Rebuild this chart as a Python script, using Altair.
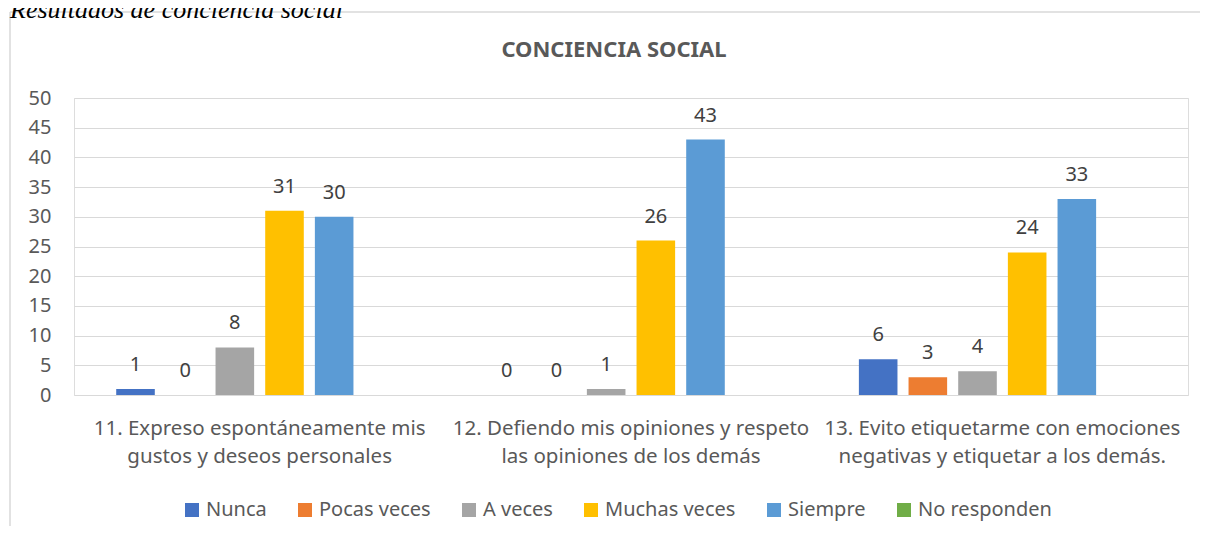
import altair as alt
import pandas as pd

categories = ["Nunca", "Pocas veces", "A veces", "Muchas veces", "Siempre", "No responden"]
colors = ["#4472C4", "#ED7D31", "#A5A5A5", "#FFC000", "#5B9BD5", "#70AD47"]
questions = [
    "11. Expreso espontáneamente mis|gustos y deseos personales",
    "12. Defiendo mis opiniones y respeto|las opiniones de los demás",
    "13. Evito etiquetarme con emociones|negativas y etiquetar a  los demás.",
]
y_ticks = [0, 5, 10, 15, 20, 25, 30, 35, 40, 45, 50]
nunca = [1, 0, 6]
pocas_veces = [0, 0, 3]
a_veces = [8, 1, 4]
muchas_veces = [31, 26, 24]
siempre = [30, 43, 33]
no_responden = [None, None, None]

series = [nunca, pocas_veces, a_veces, muchas_veces, siempre, no_responden]
rows = []
for cat, vals in zip(categories, series):
    for q, v in zip(questions, vals):
        if v is not None:
            rows.append({"pregunta": q, "respuesta": cat, "valor": v})
df = pd.DataFrame(rows)

FONT = "Noto Sans"
GRAY = "#595959"

x_enc = alt.X("pregunta:N", sort=questions,
              scale=alt.Scale(paddingInner=0, paddingOuter=0),
              axis=alt.Axis(title=None, labelAngle=0, labelExpr="split(datum.label, '|')",
                            labelFontSize=20.5, labelColor=GRAY, labelFont=FONT,
                            labelLineHeight=28, labelPadding=23, labelLimit=0,
                            domain=False, ticks=False, grid=False))
xo_enc = alt.XOffset("respuesta:N", sort=categories,
                     scale=alt.Scale(domain=categories, paddingInner=0.223, paddingOuter=0.85))
y_enc = alt.Y("valor:Q", scale=alt.Scale(domain=[0, 50], nice=False),
              axis=alt.Axis(title=None, values=y_ticks, tickCount=20, labelFontSize=20,
                            labelColor=GRAY, labelFont=FONT, labelPadding=23,
                            labelOverlap=False, domain=False, ticks=False,
                            gridColor="#D9D9D9", gridWidth=1.2))

bars = alt.Chart(df).mark_bar().encode(
    x=x_enc,
    xOffset=xo_enc,
    y=y_enc,
    color=alt.Color("respuesta:N", sort=categories,
                    scale=alt.Scale(domain=categories, range=colors),
                    legend=alt.Legend(title=None, orient="none", direction="horizontal",
                                      legendX=108, legendY=402, symbolType="square",
                                      symbolSize=196, symbolStrokeWidth=0, labelFontSize=20,
                                      labelColor=GRAY, labelFont=FONT, labelOffset=4,
                                      columnPadding=28, labelLimit=0)),
)

labels = alt.Chart(df).mark_text(baseline="alphabetic", dy=-18, fontSize=20,
                                 font=FONT, color="#404040").encode(
    x=x_enc,
    xOffset=xo_enc,
    y=y_enc,
    text="valor:Q",
)

one = alt.Data(values=[{}])
title = alt.Chart(one).mark_text(text="CONCIENCIA SOCIAL", fontSize=22, fontWeight="bold",
                                 font=FONT, color=GRAY, baseline="alphabetic").encode(
    x=alt.value(540), y=alt.value(-41))
caption = alt.Chart(one).mark_text(text="Resultados de conciencia social", fontSize=26,
                                   fontStyle="italic", font="Liberation Serif", color="#000000",
                                   align="left", baseline="alphabetic").encode(
    x=alt.value(-64), y=alt.value(-80))
frame_left = alt.Chart(one).mark_rule(color="#D9D9D9", strokeWidth=1.5).encode(
    x=alt.value(-64), y=alt.value(-86), y2=alt.value(460))
frame_top = alt.Chart(one).mark_rule(color="#D9D9D9", strokeWidth=1.5).encode(
    x=alt.value(-64), x2=alt.value(1200), y=alt.value(-86))

chart = alt.layer(frame_left, frame_top, caption, title, bars, labels).properties(
    width=1114, height=297,
    autosize=alt.AutoSizeParams(type="none"),
    padding={"left": 66, "top": 90, "right": 12, "bottom": 131},
).configure_view(stroke="transparent", strokeWidth=0).configure(background="white")

chart.save("out.html", embed_options={"renderer": "svg", "actions": False})
